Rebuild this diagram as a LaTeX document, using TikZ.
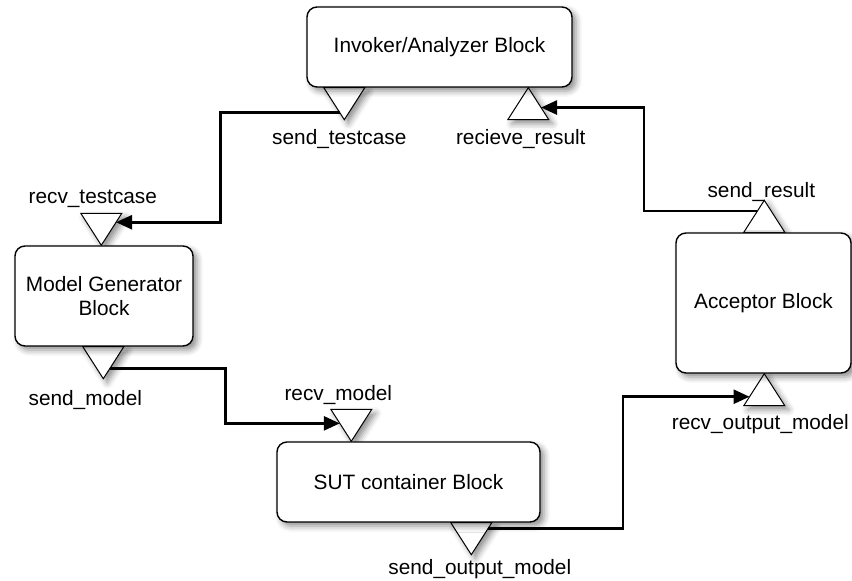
\documentclass[tikz,border=0pt]{standalone}
\usepackage{fontspec}
\setmainfont{Liberation Sans}
\usetikzlibrary{positioning,calc,shapes.geometric,arrows.meta,shadows.blur,backgrounds}

\begin{document}
\begin{tikzpicture}[x=0.5pt, y=-0.5pt, font=\fontsize{10.4pt}{12pt}\selectfont,
  soft/.style={blur shadow={shadow xshift=2pt, shadow yshift=-2pt, shadow blur radius=3pt, shadow opacity=45}},
  block/.style={draw, line width=0.7pt, rounded corners=5pt, fill=white, align=center, inner sep=0pt, soft},
  port/.style={draw, line width=0.5pt, fill=white, isosceles triangle, isosceles triangle stretches, minimum width=20.5pt, minimum height=16pt, inner sep=0pt, outer sep=0pt, soft},
  portdown/.style={port, shape border rotate=270},
  portup/.style={port, shape border rotate=90},
  flow/.style={line width=1.3pt, -{Triangle[length=8pt,width=7pt]}},
  lbl/.style={inner sep=0pt}]
\useasboundingbox (0,0) rectangle (852,581);

% blocks
\node[block, minimum width=132.5pt, minimum height=40pt] (inv) at (439.5,47) {Invoker/Analyzer Block};
\node[block, minimum width=89pt, minimum height=50pt] (gen) at (104,296) {Model Generator\\Block};
\node[block, minimum width=131.5pt, minimum height=40pt] (sut) at (408.5,482) {SUT container Block};
\node[block, minimum width=87.5pt, minimum height=70pt] (acc) at (763.5,303) {Acceptor Block};

% ports (behind the blocks and their shadows)
\begin{pgfonlayer}{background}
\node[portdown, anchor=north] (sendtc) at ($(inv.south west)+(38,0)$) {};
\node[portup, anchor=apex] (recvres) at ($(inv.south west)+(222,0)$) {};
\node[portdown, anchor=apex] (recvtc) at ($(gen.north west)+(87,0)$) {};
\node[portdown, anchor=north] (sendmodel) at ($(gen.south west)+(89,0)$) {};
\node[portdown, anchor=apex] (recvmodel) at ($(sut.north west)+(75,0)$) {};
\node[portdown, anchor=north] (sendout) at ($(sut.south west)+(195,0)$) {};
\node[portup, anchor=south] (sendres) at ($(acc.north west)+(89,0)$) {};
\node[portup, anchor=apex] (recvout) at ($(acc.south west)+(89,0)$) {};
\end{pgfonlayer}

% port labels
\node[lbl, below=4.5pt of sendtc.apex, xshift=-2.5pt] (lsendtc) {send\_testcase};
\node[lbl, below=4.5pt of recvres.south, xshift=-3.75pt] (lrecvres) {recieve\_result};
\node[lbl, above=2.5pt of recvtc.north, xshift=-4.25pt] (lrecvtc) {recv\_testcase};
\node[lbl, below=5.5pt of sendmodel.apex, xshift=-9pt] (lsendmodel) {send\_model};
\node[lbl, above=2pt of recvmodel.north, xshift=-6.5pt] (lrecvmodel) {recv\_model};
\node[lbl, below=2pt of sendout.apex, xshift=4.25pt] (lsendout) {send\_output\_model};
\node[lbl, above=-1pt of sendres.apex, xshift=-1.5pt] (lsendres) {send\_result};
\node[lbl, below=4pt of recvout.south, xshift=-2pt] (lrecvout) {recv\_output\_model};

% connectors
\draw[flow] ($(sendtc.apex)!.23!(sendtc.right corner)$) -- ++(-119,0) |- ($(recvtc.apex)!.72!(recvtc.left corner)$);
\draw[flow] ($(sendmodel.apex)!.31!(sendmodel.left corner)$) -- ++(116,0) |- ($(recvmodel.apex)!.56!(recvmodel.right corner)$);
\draw[flow] ($(sendout.apex)!.81!(sendout.left corner)$) -- ++(135,0) |- ($(recvout.apex)!.72!(recvout.left corner)$);
\draw[flow] ($(sendres.apex)!.34!(sendres.left corner)$) -- ++(-113.5,0) |- ($(recvres.apex)!.62!(recvres.right corner)$);
\end{tikzpicture}
\end{document}
